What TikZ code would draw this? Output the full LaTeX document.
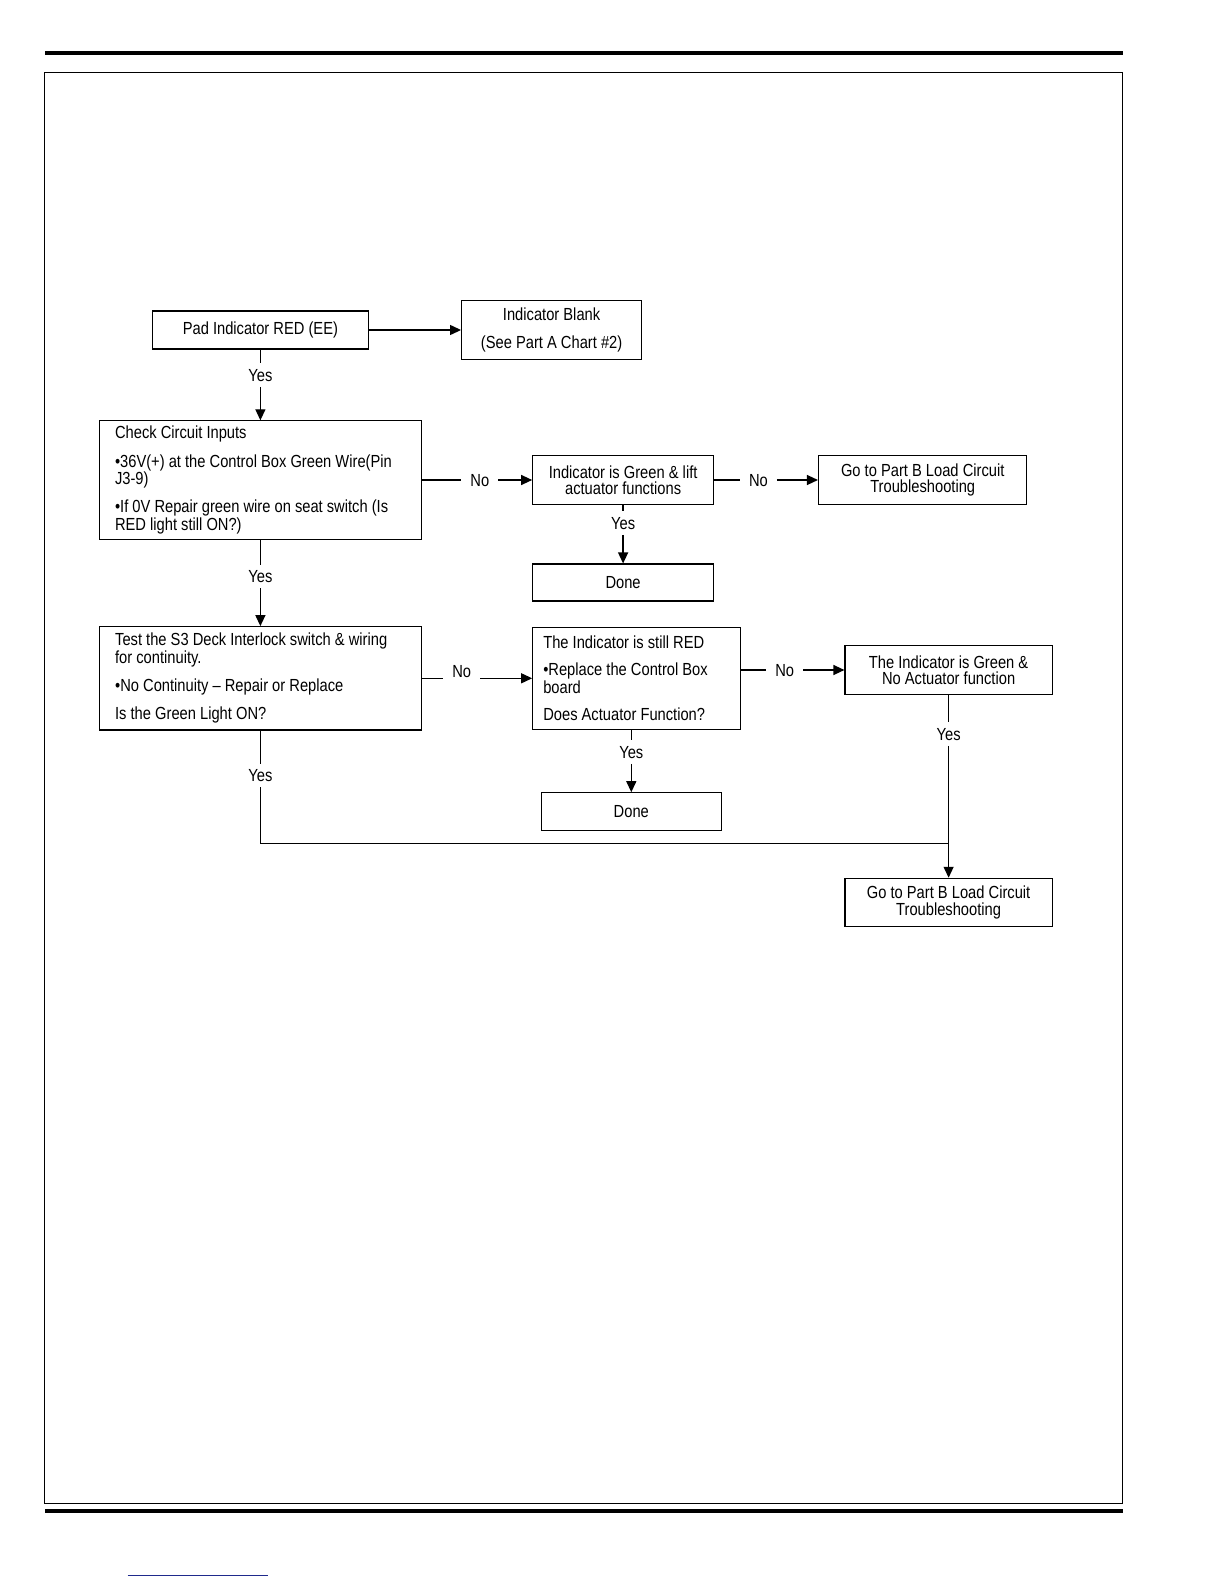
\documentclass[tikz,border=0pt]{standalone}
\usepackage{fontspec}
\setmainfont{Liberation Sans}[FakeStretch=0.84]
\usetikzlibrary{arrows.meta}
\definecolor{linkblue}{HTML}{1F2A8C}
\lineskiplimit=-100pt\relax
\begin{document}
\lineskiplimit=-100pt\relax
\begin{tikzpicture}[x=1pt,y=-1pt,
  every node/.style={font=\fontsize{17.5}{16.2}\selectfont},
  box/.style={draw, line width=1.1pt, inner ysep=0pt, anchor=center},
  cbox/.style={box, align=center},
  lbox/.style={box, align=flush left},
  lbl/.style={inner xsep=8.8pt, inner ysep=5.5pt, text height=12.5pt, text depth=0pt},
  conn/.style={line width=1.3pt},
  arr/.style={conn, -{Triangle[length=11pt,width=10pt]}}]
\useasboundingbox (0,0) rectangle (1224,1584);
% page frame
\fill (44.9,51) rectangle (1123,55);
\draw[line width=1pt] (44.9,73) rectangle (1122,1503.3);
\fill (44.9,1509.3) rectangle (1123,1513);
\draw[linkblue, line width=1pt] (127.7,1575.7) -- (268,1575.7);
% boxes
\node[cbox, minimum width=215.3pt, minimum height=38pt] (b1) at (260.4,330) {Pad Indicator RED (EE)};
\node[cbox, minimum width=180pt, minimum height=58.5pt] (b2) at (551.6,330) {Indicator Blank\\[11.1pt](See Part A Chart \#2)};
\node[lbox, minimum width=322.7pt, minimum height=118.3pt, text width=290.7pt, inner xsep=16pt] (b3) at (260.4,480) {Check Circuit Inputs\\[11.1pt]•36V(+) at the Control Box Green Wire(Pin\\J3-9)\\[11.1pt]•If 0V Repair green wire on seat switch (Is\\RED light still ON?)};
\node[cbox, minimum width=180.8pt, minimum height=48.3pt] (b4) at (623.1,480) {Indicator is Green \& lift\\actuator functions};
\node[cbox, minimum width=208.4pt, minimum height=48.3pt] (b5) at (922.7,480) {Go to Part B Load Circuit\\Troubleshooting};
\node[cbox, minimum width=180.8pt, minimum height=37pt] (b6) at (623.1,582.5) {Done};
\node[lbox, minimum width=322.5pt, minimum height=103.3pt, text width=290.5pt, inner xsep=16pt] (b7) at (260.4,678.3) {Test the S3 Deck Interlock switch \& wiring\\for continuity.\\[11.1pt]•No Continuity – Repair or Replace\\[11.1pt]Is the Green Light ON?};
\node[lbox, minimum width=208pt, minimum height=102pt, text width=186.8pt, inner xsep=10.6pt] (b8) at (636.7,678.3) {The Indicator is still RED\\[11.1pt]•Replace the Control Box\\board\\[11.1pt]Does Actuator Function?};
\node[cbox, minimum width=207.3pt, minimum height=48.6pt] (b9) at (948.6,670) {The Indicator is Green \&\\No Actuator function};
\node[cbox, minimum width=179.7pt, minimum height=37.5pt] (b10) at (631.3,811.5) {Done};
\node[cbox, minimum width=207.3pt, minimum height=48.4pt] (b11) at (948.6,902.5) {Go to Part B Load Circuit\\Troubleshooting};
% labels
\node[lbl] (y1) at (260.4,375) {Yes};
\node[lbl] (y2) at (260.4,576.5) {Yes};
\node[lbl] (y3) at (623.1,523) {Yes};
\node[lbl] (y4) at (631.3,752) {Yes};
\node[lbl] (y5) at (260.4,775.5) {Yes};
\node[lbl] (y6) at (948.6,734) {Yes};
\node[lbl] (n1) at (479.8,480) {No};
\node[lbl] (n2) at (758.4,480) {No};
\node[lbl] (n3) at (461.7,671) {No};
\node[lbl] (n4) at (784.7,670) {No};
\coordinate (j) at (948.6,843.3);
% connectors
\draw[arr] (b1.east) -- (b1.east -| b2.west);
\draw[conn] (b1) -- (y1);
\draw[arr] (y1) -- (b3);
\draw[conn] (b3) -- (n1);
\draw[arr] (n1) -- (b4);
\draw[conn] (b4) -- (n2);
\draw[arr] (n2) -- (b5);
\draw[conn] (b4) -- (y3);
\draw[arr] (y3) -- (b6);
\draw[conn] (b3) -- (y2);
\draw[arr] (y2) -- (b7);
\draw[conn] (b7.east) -- (b7.east -| n3.west);
\draw[arr] (b7.east -| n3.east) -- (b8.west);
\draw[conn] (b8.east |- b9) -- (n4);
\draw[arr] (n4) -- (b9);
\draw[conn] (b8.south -| y4) -- (y4);
\draw[arr] (y4) -- (b10);
\draw[conn] (b7) -- (y5);
\draw[conn] (y5.south) |- (j);
\draw[conn] (b9) -- (y6);
\draw[arr] (y6) -- (b11);
\end{tikzpicture}
\end{document}
